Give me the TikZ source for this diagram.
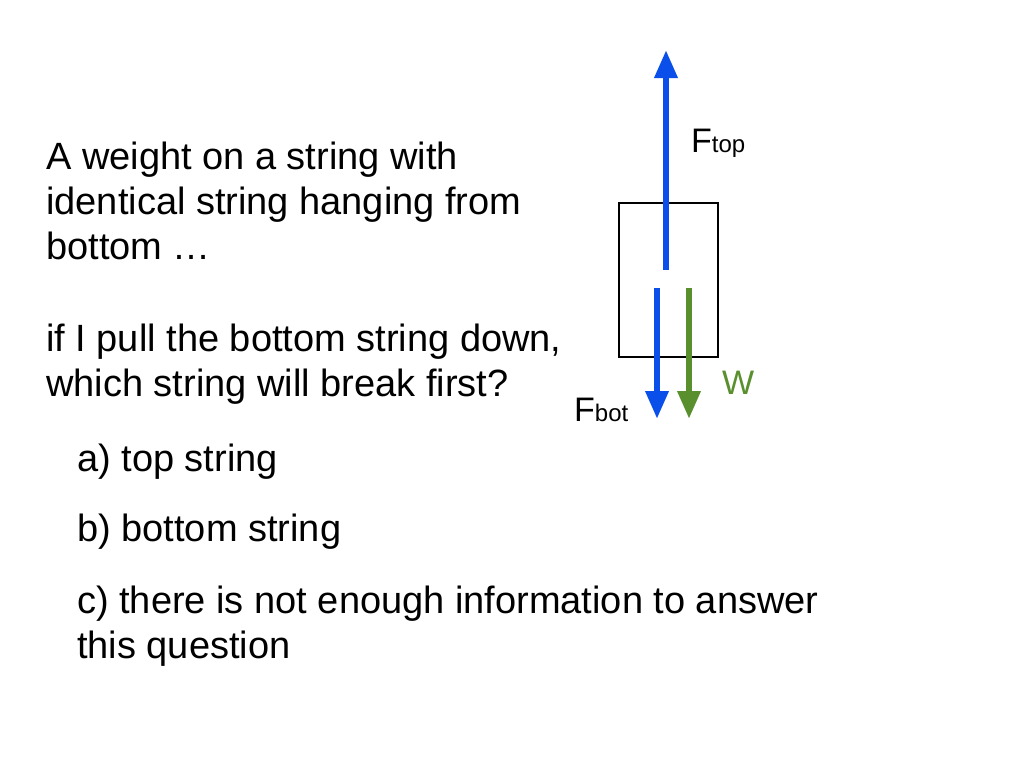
\documentclass[tikz,border=0pt]{standalone}
\usepackage{fontspec}
\setmainfont{Liberation Sans}
\usetikzlibrary{arrows.meta}
\definecolor{fblue}{HTML}{0A4FEA}
\definecolor{fgreen}{HTML}{5A8F2E}
\tikzset{txt/.style={anchor=north west,inner sep=0pt,align=left,font=\fontsize{38}{45}\selectfont},
force/.style={line width=6.5pt,-{Triangle[length=28pt,width=22pt]}},
lbl/.style={inner sep=0pt,anchor=base west,font=\fontsize{34}{40}\selectfont}}
\begin{document}
\begin{tikzpicture}[x=1pt,y=-1pt]
\useasboundingbox (0,0) rectangle (1024,768);
\node[txt] (t1) at (46,142) {A weight on a string with\\identical string hanging from\\bottom \dots\\[47pt]if I pull the bottom string down,\\which string will break first?};
\node[txt] (a) at (77,444) {a) top string};
\node[txt] (b) at (77,514) {b) bottom string};
\node[txt] (c) at (77,586) {c) there is not enough information to answer\\this question};
\node[draw,line width=2pt,minimum width=99pt,minimum height=154pt,inner sep=0pt] (box) at (668.5,280) {};
\coordinate (s1) at (666,270); \coordinate (e1) at (666,50);
\coordinate (s2) at (657,288); \coordinate (e2) at (657,419);
\coordinate (s3) at (689,288); \coordinate (e3) at (689,419);
\draw[force,fblue] (s1) -- (e1);
\draw[force,fblue] (s2) -- (e2);
\draw[force,fgreen] (s3) -- (e3);
\node[lbl] (ft) at (691,152) {F\fontsize{24}{28}\selectfont top};
\node[lbl] (fb) at (574,421) {F\fontsize{24}{28}\selectfont bot};
\node[lbl,text=fgreen] (w) at (722,394) {W};
\end{tikzpicture}
\end{document}
